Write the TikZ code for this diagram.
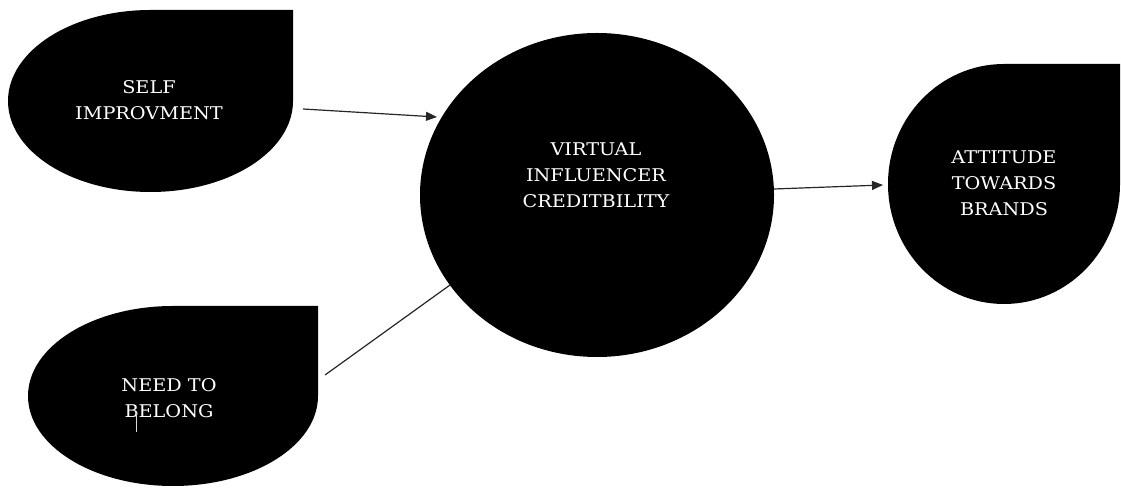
\documentclass[tikz,border=0pt]{standalone}
\usepackage{fontspec}
\usetikzlibrary{arrows.meta,shapes.geometric}
\newfontfamily\labelfont{DejaVu Serif}[FakeStretch=1.1]
\begin{document}
\begin{tikzpicture}[x=1pt,y=1pt,
  blob/.style={fill=black},
  label/.style={text=white,align=center,font=\labelfont\fontsize{17.5}{26}\selectfont,inner sep=0pt},
  link/.style={draw=black!85,line width=1.2pt},
  arrow/.style={link,-{Triangle[length=11pt,width=9pt]}}]
\useasboundingbox (0,0) rectangle (1121,487);

% drop shapes: an ellipse whose upper-right quarter is a square corner
\fill[blob] (293,477) -- (293,386) arc[start angle=0,end angle=-270,x radius=142.5,y radius=91] -- cycle;
\fill[blob] (318,181) -- (318,91) arc[start angle=0,end angle=-270,x radius=145,y radius=90] -- cycle;
\fill[blob] (1120,423) -- (1120,303) arc[start angle=0,end angle=-270,x radius=116,y radius=120] -- cycle;

% central construct
\node[ellipse,fill=black,minimum width=354pt,minimum height=324pt,inner sep=0pt] (vic) at (597,292) {};

% labels
\node[label] (self) at (149,387) {SELF\\IMPROVMENT};
\node[label] (belong) at (169,89) {NEED TO\\BELONG};
\node[label] (att) at (1004,304) {ATTITUDE\\TOWARDS\\BRANDS};
\node[label] (vtext) at (596,312) {VIRTUAL\\INFLUENCER\\CREDITBILITY};
% text cursor mark in the lower label
\draw[white!85!black,line width=0.9pt] (136,76) -- (136,55);

% connector end points
\coordinate (s1) at (303,378);
\coordinate (s2) at (437,370);
\coordinate (b1) at (325,112);
\coordinate (b2) at (450,202);
\coordinate (v1) at (774,298);
\coordinate (a1) at (883,302);

\draw[arrow] (s1) -- (s2);
\draw[link] (b1) -- (b2);
\draw[arrow] (v1) -- (a1);
\end{tikzpicture}
\end{document}
